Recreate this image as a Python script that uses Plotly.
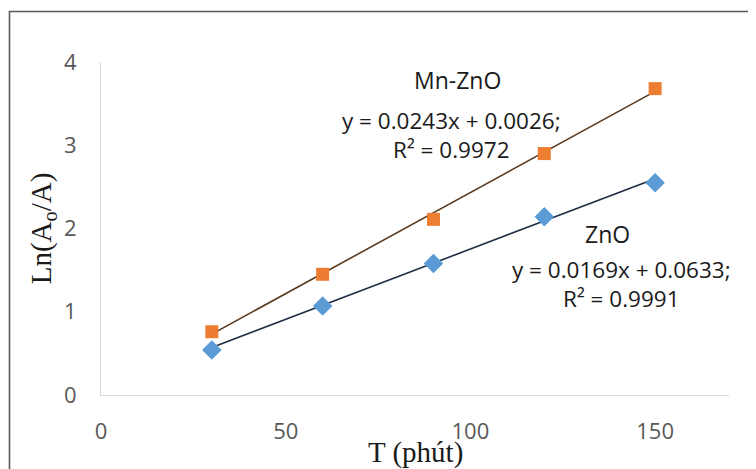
import plotly.graph_objects as go

time_min = [30, 60, 90, 120, 150]
mn_zno = [0.76, 1.45, 2.11, 2.90, 3.68]
zno = [0.54, 1.07, 1.58, 2.14, 2.55]

fit_slope = {"Mn-ZnO": 0.0243, "ZnO": 0.0169}
fit_intercept = {"Mn-ZnO": 0.0026, "ZnO": 0.0633}
fit_r2 = {"Mn-ZnO": 0.9972, "ZnO": 0.9991}

W, H = 756, 469
OFF = 8  # browser body margin
# plot area in screen pixels: left 101, right 729, top 62, bottom 395
L, T = 101 - OFF, 62 - OFF
R, B = W - (729 - OFF), H - (395 - OFF)
pw, ph = W - L - R, H - T - B

def px(x):
    return (x - OFF - L) / pw

def py(y):
    return (H - B - (y - OFF)) / ph

fig = go.Figure()

for name, color in [("Mn-ZnO", "#5a3a1e"), ("ZnO", "#1f2d44")]:
    xs = [time_min[0], time_min[-1]]
    ys = [fit_slope[name] * x + fit_intercept[name] for x in xs]
    fig.add_trace(go.Scatter(x=xs, y=ys, mode="lines",
                             line=dict(color=color, width=1.6),
                             showlegend=False, hoverinfo="skip"))

fig.add_trace(go.Scatter(x=time_min, y=mn_zno, mode="markers", name="Mn-ZnO",
                         marker=dict(symbol="square", size=13, color="#ED7D31"),
                         showlegend=False))
fig.add_trace(go.Scatter(x=time_min, y=zno, mode="markers", name="ZnO",
                         marker=dict(symbol="diamond", size=15, color="#5B9BD5"),
                         showlegend=False))

txt_font = dict(family="Open Sans, Noto Sans, sans-serif", color="#1a1a1a")

def label(x, y, text, size, anchor="middle"):
    fig.add_annotation(x=px(x), y=py(y), xref="paper", yref="paper", text=text,
                       showarrow=False, font=dict(size=size, **txt_font),
                       xanchor="center", yanchor=anchor, align="center")

for name, lx, ly, ex, ey in [("Mn-ZnO", 457, 80, 451, 135), ("ZnO", 607, 234, 621, 284)]:
    label(lx, ly, name, 23)
    label(ex, ey, "y = %.4fx + %.4f;<br>R² = %.4f"
          % (fit_slope[name], fit_intercept[name], fit_r2[name]), 22.5)

# outer chart frame
fig.add_shape(type="rect", xref="paper", yref="paper",
              x0=px(9.5), x1=px(790), y0=py(11.5), y1=py(500),
              line=dict(color="#595959", width=1.6), layer="above")

tick_font = dict(family="Open Sans, Noto Sans, sans-serif", size=22, color="#595959")
title_font = dict(family="Liberation Serif, Times New Roman, serif", size=29, color="#1a1a1a")

# x-axis title placed as an annotation so it sits exactly under the tick labels
fig.add_annotation(x=0.5, y=py(452), xref="paper", yref="paper", text="T (phút)",
                   showarrow=False, font=title_font, xanchor="center", yanchor="middle",
                   borderpad=0)

fig.update_layout(
    width=W, height=H,
    margin=dict(l=L, r=R, t=T, b=B),
    paper_bgcolor="white", plot_bgcolor="white",
    xaxis=dict(range=[0, 170], tickvals=[0, 50, 100, 150], showgrid=False,
               zeroline=False, showline=True, linecolor="#d9d9d9", linewidth=1.2,
               ticks="", tickfont=tick_font, ticklabelstandoff=16, automargin=False),
    yaxis=dict(range=[0, 4], tickvals=[0, 1, 2, 3, 4], showgrid=False,
               zeroline=False, showline=True, linecolor="#d9d9d9", linewidth=1.2,
               ticks="", tickfont=tick_font, ticklabelstandoff=19, automargin=False,
               title=dict(text="Ln(A<sub>o</sub>/A)", font=title_font, standoff=3)),
)

fig.write_html("out.html")
